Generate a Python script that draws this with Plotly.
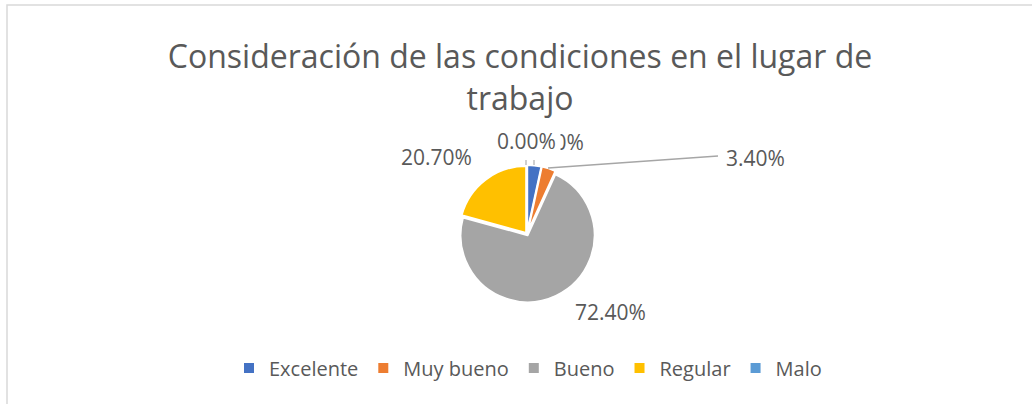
import plotly.graph_objects as go

# Survey shares (%) per rating
categories = ["Excelente", "Muy bueno", "Bueno", "Regular", "Malo"]
shares = [3.40, 3.40, 72.40, 20.70, 0.00]
colors = ["#4472C4", "#ED7D31", "#A5A5A5", "#FFC000", "#5B9BD5"]

W, H = 1032, 404
TEXT = "#595959"
FONT = "'Open Sans', 'Noto Sans', sans-serif"


def px(x):
    return x / W


def py(y):
    return 1 - y / H


fig = go.Figure(
    go.Pie(
        labels=categories,
        values=shares,
        sort=False,
        direction="clockwise",
        rotation=0,
        marker=dict(colors=colors, line=dict(color="white", width=2)),
        textinfo="none",
        hoverinfo="label+percent",
        pull=[0.03, 0.03, 0.02, 0.02, 0.0],
        domain=dict(x=[px(458), px(596)], y=[py(303), py(165)]),
    )
)

# Data labels placed around the pie, text derived from the values
label_pos = {
    "Excelente": (554, 142),
    "Muy bueno": (755, 158),
    "Bueno": (610, 312),
    "Regular": (436, 157),
    "Malo": (526, 141),
}
order = ["Excelente", "Muy bueno", "Bueno", "Regular", "Malo"]
annotations = []
for name in order:
    v = shares[categories.index(name)]
    x, y = label_pos[name]
    annotations.append(
        dict(
            x=px(x), y=py(y), xref="paper", yref="paper",
            text=f"{v:.2f}%", showarrow=False,
            font=dict(family=FONT, size=21, color=TEXT),
            bgcolor="white" if name == "Malo" else "rgba(0,0,0,0)",
            borderpad=4 if name == "Malo" else 1,
            xanchor="center", yanchor="middle",
        )
    )

shapes = [
    # chart area border
    dict(type="rect", xref="paper", yref="paper",
         x0=px(7), y0=py(420), x1=px(1045), y1=py(5),
         line=dict(color="#D9D9D9", width=1.5), fillcolor="rgba(0,0,0,0)"),
    # leader line to the "Muy bueno" label
    dict(type="line", xref="paper", yref="paper",
         x0=px(548), y0=py(168), x1=px(718), y1=py(156),
         line=dict(color="#A6A6A6", width=1.5)),
    # short leader ticks for the top labels
    dict(type="line", xref="paper", yref="paper",
         x0=px(526), y0=py(160), x1=px(526), y1=py(165),
         line=dict(color="#BFBFBF", width=1.5)),
    dict(type="line", xref="paper", yref="paper",
         x0=px(534), y0=py(160), x1=px(534), y1=py(165),
         line=dict(color="#BFBFBF", width=1.5)),
]

fig.update_layout(
    width=W, height=H,
    margin=dict(l=0, r=0, t=0, b=0),
    paper_bgcolor="white", plot_bgcolor="white",
    title=dict(
        text="Consideración de las condiciones en el lugar de<br>trabajo",
        x=px(520), xanchor="center",
        y=py(68), yanchor="middle", yref="container",
        font=dict(family=FONT, size=32, color=TEXT),
    ),
    legend=dict(
        orientation="h", x=px(528), xanchor="center",
        y=py(368), yanchor="middle",
        font=dict(family=FONT, size=20, color=TEXT),
        traceorder="normal",
    ),
    annotations=annotations,
    shapes=shapes,
)

fig.write_html("out.html")
